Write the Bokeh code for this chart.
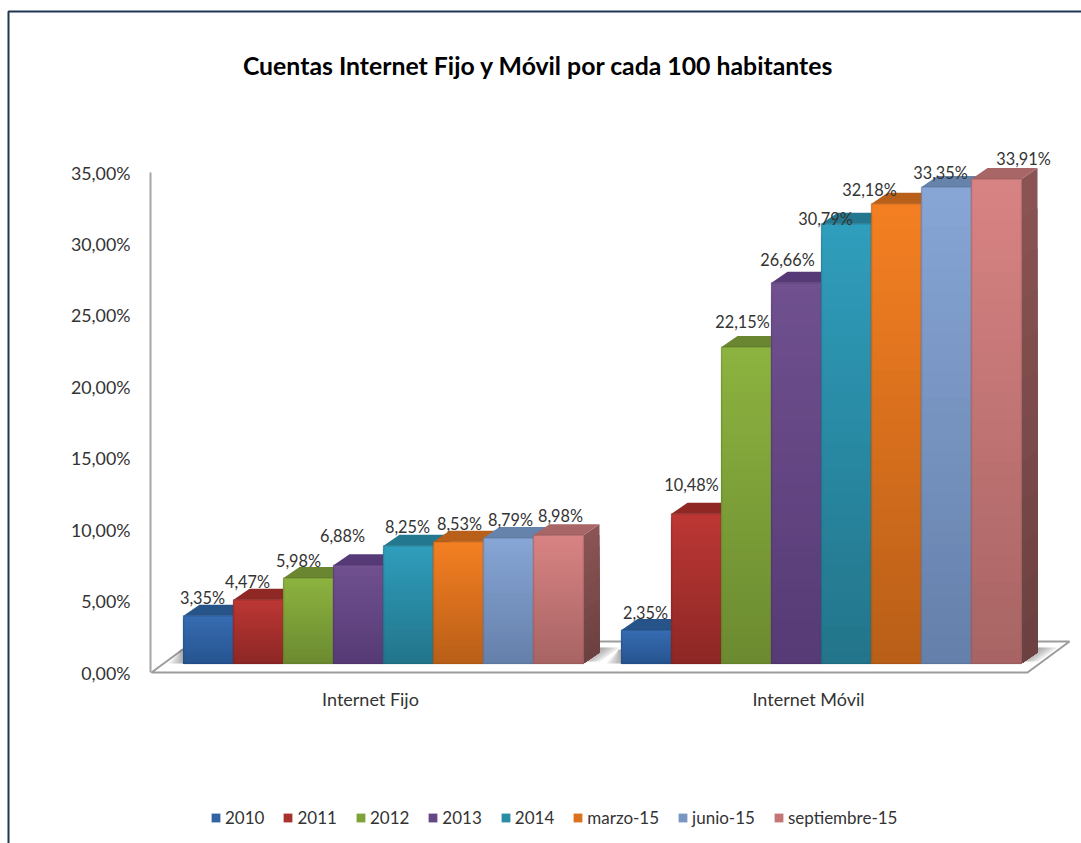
from bokeh.plotting import figure
from bokeh.embed import file_html
from bokeh.resources import INLINE
from bokeh.core.properties import value
from bokeh.models import (Range1d, LinearAxis, FixedTicker, Legend, LegendItem, Label,
                          ColumnDataSource)

# ---- data ----
groups = ["Internet Fijo", "Internet Móvil"]
series = ["2010", "2011", "2012", "2013", "2014", "marzo-15", "junio-15", "septiembre-15"]
fijo = [3.35, 4.47, 5.98, 6.88, 8.25, 8.53, 8.79, 8.98]
movil = [2.35, 10.48, 22.15, 26.66, 30.79, 32.18, 33.35, 33.91]
y_ticks = [0, 5, 10, 15, 20, 25, 30, 35]
y_tick_labels = ["0,00%", "5,00%", "10,00%", "15,00%", "20,00%", "25,00%", "30,00%", "35,00%"]
title_text = "Cuentas Internet Fijo y Móvil por cada 100 habitantes"

# ---- style ----
top_col = ["#376CB2", "#BC3734", "#8CB23F", "#70508F", "#2F9DBC", "#F47F22", "#87A5D5", "#D88383"]
bot_col = ["#26548F", "#8C2725", "#6B8A30", "#553A75", "#227489", "#B85E18", "#647FA9", "#A76363"]
cap_col = ["#265489", "#8F2725", "#6B8630", "#563A77", "#23788F", "#B8601A", "#6683AC", "#A96666"]
label_dx = [[-6, -11, -10, -16, -1, 1, 2, 2], [-1, -5, -4, -9, -21, -27, -6, 27]]
label_dy = [[18, 18, 18, 30, 19, 18, 18, 20], [17, 29, 26, 23, 5, 14, 15, 21]]
FONT = "Lato"
TEXT = "#333333"

W, H = 1081, 843
AX_X, AX_Y = 150, 672   # page position of the axis origin
PX = 50.0               # pixels per bar width
PY = 500 / 35           # pixels per percent on the axis
group_x = [0.66, 9.42]  # left edge of each group, in bar widths
dx, dy = 16 / PX, 11 / PY
N = 36


def hex2rgb(c):
    return [int(c[i:i + 2], 16) for i in (1, 3, 5)]


def mix(a, b, t, k=1.0):
    ra, rb = hex2rgb(a), hex2rgb(b)
    return "#%02x%02x%02x" % tuple(int(round((ra[i] + (rb[i] - ra[i]) * t) * k)) for i in range(3))


def sx(px):
    return (px - AX_X) / PX


def sy(py):
    return (AX_Y - py) / PY


p = figure(width=W, height=H, output_backend="svg", toolbar_location=None,
           x_range=Range1d(sx(0), sx(W)), y_range=Range1d(sy(H), sy(0)),
           min_border=0, x_axis_location=None, y_axis_location=None,
           background_fill_color="white", border_fill_color="white", outline_line_color=None)
p.xgrid.visible = False
p.ygrid.visible = False

# bars sit on the floor, 9 px above the axis zero
shift = 9 / PY
p.extra_y_ranges = {"bars": Range1d(sy(H) - shift, sy(0) - shift)}

# axes
ya = LinearAxis(ticker=FixedTicker(ticks=y_ticks), bounds=(0, 35), fixed_location=0,
                major_label_overrides=dict(zip(y_ticks, y_tick_labels)))
ya.axis_line_color = "#A6A6A6"
ya.axis_line_width = 2
ya.major_tick_line_color = None
ya.minor_tick_line_color = None
ya.major_label_standoff = 14
ya.major_label_text_font = FONT
ya.major_label_text_font_size = "17.8px"
ya.major_label_text_color = TEXT
p.add_layout(ya, "left")

tick_x = [g + 3.74 for g in group_x]
xa = LinearAxis(ticker=FixedTicker(ticks=tick_x), fixed_location=0,
                major_label_overrides=dict(zip(tick_x, groups)))
xa.axis_line_color = None
xa.major_tick_line_color = None
xa.minor_tick_line_color = None
xa.major_label_standoff = 9
xa.major_label_text_font = FONT
xa.major_label_text_font_size = "18px"
xa.major_label_text_color = TEXT
p.add_layout(xa, "below")

# chart title
p.add_layout(Label(x=sx(538), y=sy(65), text=title_text, text_font=FONT, text_font_size="24.8px",
                   text_font_style="bold", text_color="#000000", text_align="center",
                   text_baseline="middle"))

# dark border of the chart area
p.line([sx(8), sx(8), sx(W + 5)], [sy(H + 5), sy(11), sy(11)], line_color="#1F3552", line_width=2)

# floor
fx0, fx1 = sx(151), sx(1027)
fdx, fdy = 42 / PX, 31 / PY
p.patch([fx0, fx1, fx1 + fdx, fx0 + fdx], [0, 0, fdy, fdy], fill_color="white",
        line_color="#9C9C9C", line_width=2)

# soft shadow on the floor beside the bars (pixel offsets converted to bar units)
for i, g in enumerate(group_x):
    right = g + 8
    for w in (4, 8, 12, 16, 20):
        xs_ = [right, right + 16 / PX, right + 16 / PX, right + (16 + w) / PX, right + (w - 4) / PX, right]
        ys_ = [0, 11 / PY, 16 / PY, 16 / PY, 2 / PY, 2 / PY]
        p.patch(xs_, ys_, fill_color="#707070", fill_alpha=0.16, line_color=None, y_range_name="bars")
    for w in (3, 6, 9, 12, 15):
        xs_ = [g, g, g - min(w, 3) / PX, g - w / PX]
        ys_ = [0, 14 / PY, 14 / PY, 0]
        p.patch(xs_, ys_, fill_color="#707070", fill_alpha=0.13, line_color=None, y_range_name="bars")

# bars, painted from back-left to front-right, one series at a time
values = [fijo, movil]
legend_items = []
for s, name in enumerate(series):
    vals = [values[0][s], values[1][s]]
    lefts = [group_x[0] + s, group_x[1] + s]
    centres = [l + 0.5 for l in lefts]
    bar = p.vbar(x=centres, top=vals, bottom=0, width=1, fill_color=mix(top_col[s], bot_col[s], 0.4),
                 line_color=None, y_range_name="bars")
    legend_items.append(LegendItem(label=name, renderers=[bar]))

    for l, v in zip(lefts, vals):
        r = l + 1
        # side face
        xs, ys, cs = [], [], []
        for k in range(12):
            f = 1 - k / 12
            xs.append([r, r + dx, r + dx, r])
            ys.append([0, dy, v * f + dy, v * f])
            cs.append(mix(bot_col[s], top_col[s], f, 0.64))
        p.patches(xs, ys, fill_color=cs, line_color=None, y_range_name="bars")
        # top face
        p.patch([l, r, r + dx, l + dx], [v, v, v + dy, v + dy], fill_color=cap_col[s],
                line_color=None, y_range_name="bars")
        # front face: nested rectangles make a vertical gradient
        lf, rt, tp, bt, cs = [], [], [], [], []
        for k in range(N):
            f = 1 - k / N
            lf.append(l)
            rt.append(r)
            tp.append(v * f)
            bt.append(0)
            cs.append(mix(bot_col[s], top_col[s], f))
        p.quad(left=lf, right=rt, top=tp, bottom=bt, fill_color=cs, line_color=None,
               y_range_name="bars")
        # bevel
        p.quad(left=[l], right=[r], top=[v], bottom=[0], fill_color=None,
               line_color=mix(bot_col[s], bot_col[s], 0, 0.8), line_alpha=0.35, line_width=1.5,
               y_range_name="bars")

# data labels
for g, gx in enumerate(group_x):
    src = ColumnDataSource(dict(
        x=[gx + s + 0.5 for s in range(len(series))],
        y=values[g],
        t=[f"{v:.2f}%".replace(".", ",") for v in values[g]],
        xo=label_dx[g],
        yo=[-d for d in label_dy[g]],
    ))
    p.text(x="x", y="y", text="t", x_offset="xo", y_offset="yo", source=src, y_range_name="bars",
           text_font=value(FONT), text_font_size="16.3px", text_color=TEXT, text_align="center",
           text_baseline="middle")

# legend below the plot
legend = Legend(items=legend_items, orientation="horizontal", location=(210, 15),
                background_fill_alpha=0, border_line_color=None, glyph_width=11, glyph_height=11,
                label_standoff=4, spacing=18, padding=0, margin=0,
                label_text_font=FONT, label_text_font_size="17px", label_text_color=TEXT)
p.add_layout(legend)

open("out.html", "w").write(file_html(p, INLINE))
